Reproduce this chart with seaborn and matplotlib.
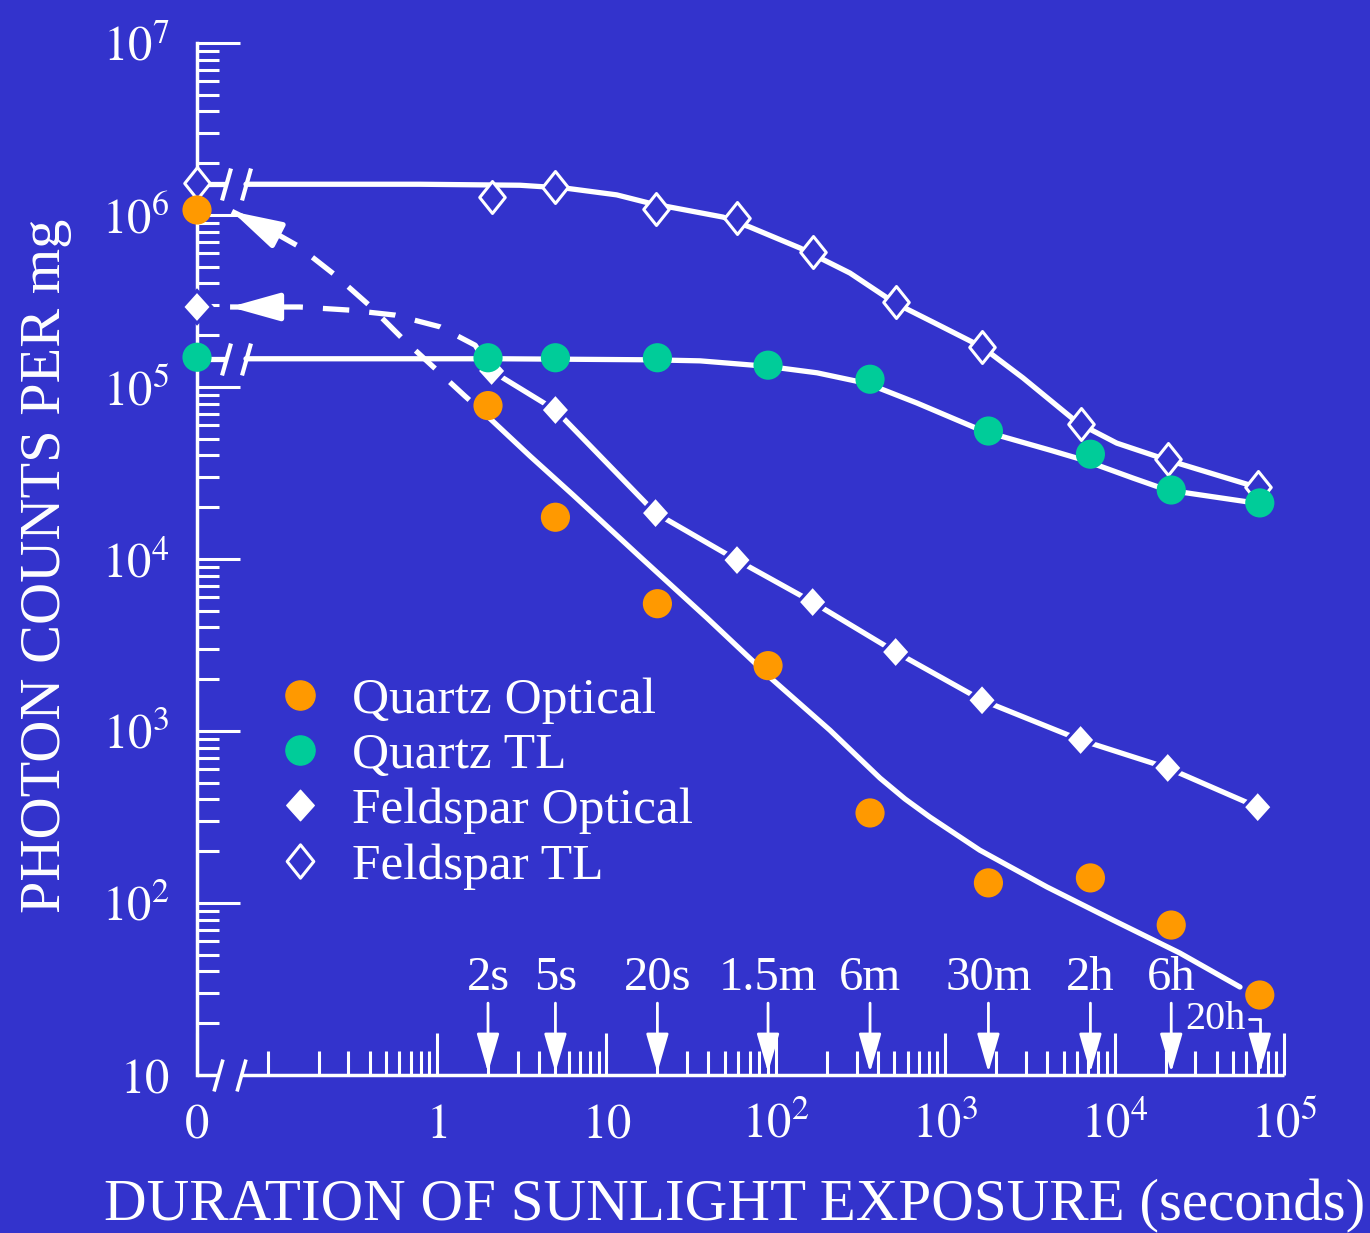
import matplotlib
matplotlib.use("Agg")
import numpy as np
import matplotlib.pyplot as plt
import matplotlib.ticker as mticker
from matplotlib.lines import Line2D
from matplotlib.path import Path
from matplotlib.patches import ArrowStyle
import seaborn as sns

# === Data (seconds, photon counts per mg) ===
quartz_times = [0, 2, 5, 20, 90, 360, 1800, 7200, 21600, 72000]
quartz_optical = [1.07e6, 7.8e4, 1.75e4, 5.5e3, 2.4e3, 334, 131, 140, 74.5, 29.2]
quartz_tl = [1.49e5, 1.48e5, 1.48e5, 1.48e5, 1.34e5, 1.11e5, 5.55e4, 4.07e4, 2.52e4, 2.12e4]

feldspar_times = [0, 2.1, 5, 19.5, 59, 165, 510, 1650, 6300, 20600, 70000]
feldspar_optical = [2.92e5, 1.24e5, 7.35e4, 1.85e4, 9.86e3, 5.62e3, 2.88e3, 1.51e3, 887, 610, 361]
feldspar_tl = [1.53e6, 1.27e6, 1.46e6, 1.08e6, 9.6e5, 6.1e5, 3.12e5, 1.71e5, 6.1e4, 3.81e4, 2.62e4]

# fitted curves drawn through the data (traced)
qo_fit_t = [1.95, 3.54, 6.35, 15.8, 39.3, 96.2, 209, 412, 579, 813, 1600, 3990, 9790, 24300, 55000]
qo_fit_y = [6.88e4, 3.97e4, 2.36e4, 1.03e4, 4.54e3, 1.98e3, 1.01e3, 533, 403, 316, 203, 124, 79.6,
            51.2, 32.5]
qo_dash_t = [0.0616, 0.103, 0.151, 0.250, 0.402, 0.630, 1.01, 1.46, 1.95]
qo_dash_y = [1.05e6, 8.18e5, 6.61e5, 4.48e5, 2.96e5, 1.90e5, 1.24e5, 8.87e4, 6.88e4]
fo_dash_t = [0.060, 0.155, 0.306, 0.565, 1.04, 1.68, 2.1]
fo_dash_y = [2.92e5, 2.92e5, 2.80e5, 2.62e5, 2.24e5, 1.75e5, 1.24e5]
qtl_fit_t = [0.0745, 2.35, 18.1, 35.7, 88.7, 175, 345, 682, 1670, 4150, 6510, 12800, 20400, 63000]
qtl_fit_y = [1.46e5, 1.46e5, 1.44e5, 1.42e5, 1.32e5, 1.21e5, 1.05e5, 8.07e4, 5.55e4, 4.30e4,
             3.77e4, 2.96e4, 2.52e4, 2.14e4]
ftl_fit_t = [0.0745, 0.794, 3.09, 5.85, 11.5, 18.1, 48.8, 70.4, 139, 274, 505, 895, 1650, 2880,
             6080, 10300, 20400, 63000]
ftl_fit_y = [1.51e6, 1.51e6, 1.49e6, 1.43e6, 1.31e6, 1.17e6, 9.73e5, 8.51e5, 6.43e5, 4.60e5,
             3.08e5, 2.32e5, 1.71e5, 1.13e5, 6.18e4, 4.72e4, 3.77e4, 2.69e4]

arrow_times = [2, 5, 20, 90, 360, 1800, 7200, 21600, 72000]
arrow_labels = ["2s", "5s", "20s", "1.5m", "6m", "30m", "2h", "6h", "20h"]

x_tick_vals = [0, 1, 10, 100, 1e3, 1e4, 1e5]
x_tick_labels = ["$0$", "$1$", "$10$", "$10^{2}$", "$10^{3}$", "$10^{4}$", "$10^{5}$"]
y_tick_vals = [10, 1e2, 1e3, 1e4, 1e5, 1e6, 1e7]
y_tick_labels = ["$10$", "$10^{2}$", "$10^{3}$", "$10^{4}$", "$10^{5}$", "$10^{6}$", "$10^{7}$"]

# === Style ===
BG = "#3333cc"
ORANGE = "#ff9900"
GREEN = "#00cc99"
X_ZERO = 10 ** -1.417          # where "0" sits on the broken log axis
AXIS_BREAK = (0.0509, 0.0692)
LINE_BREAK = (0.0568, 0.0745)
LW = 3.8


def zero_pos(ts):
    return [X_ZERO if t == 0 else t for t in ts]


sns.set_theme(style="ticks")
plt.rcParams["font.family"] = ["Liberation Serif", "DejaVu Serif"]
plt.rcParams["mathtext.fontset"] = "stix"

slash = Path([(-0.28, -1), (0.28, 1)], [Path.MOVETO, Path.LINETO])
diamond_open = Path([(0, 1), (0.8, 0), (0, -1), (-0.8, 0), (0, 1)],
                    [Path.MOVETO, Path.LINETO, Path.LINETO, Path.LINETO, Path.CLOSEPOLY])
diamond_fill = Path([(0, 1), (0.9, 0), (0, -1), (-0.9, 0), (0, 1)],
                    [Path.MOVETO, Path.LINETO, Path.LINETO, Path.LINETO, Path.CLOSEPOLY])

fig = plt.figure(figsize=(13.7, 12.33), dpi=100, facecolor=BG)
ax = fig.add_axes([0.1438, 0.1281, 0.7934, 0.8370])
ax.set_facecolor(BG)
ax.set_xscale("log")
ax.set_yscale("log")
ax.set_xlim(X_ZERO, 1e5)
ax.set_ylim(10, 1e7)

# === Curves ===
line_kw = dict(color="white", lw=LW, sort=False, estimator=None, ax=ax, zorder=2)
sns.lineplot(x=qo_fit_t, y=qo_fit_y, **line_kw)
sns.lineplot(x=qo_dash_t, y=qo_dash_y, linestyle=(0, (5, 3.8)), **line_kw)
sns.lineplot(x=fo_dash_t, y=fo_dash_y, linestyle=(0, (5, 3.8)), **line_kw)
sns.lineplot(x=feldspar_times[1:], y=feldspar_optical[1:], **line_kw)
sns.lineplot(x=qtl_fit_t, y=qtl_fit_y, **line_kw)
sns.lineplot(x=ftl_fit_t, y=ftl_fit_y, **line_kw)

# stubs before the break on the TL curves + break marks
for yv in (qtl_fit_y[0], ftl_fit_y[0]):
    ax.plot([X_ZERO, LINE_BREAK[0]], [yv, yv], color="white", lw=LW, solid_capstyle="butt",
            clip_on=False, zorder=2)
    ax.plot(LINE_BREAK, [yv, yv], ls="none", marker=slash, ms=23, mec="white", mew=3,
            clip_on=False, zorder=2)

# arrowheads on the dashed curves (pointing back to the unbleached values)
head = ArrowStyle("-|>", head_length=1.5, head_width=0.42)
ax.annotate("", xy=(qo_dash_t[0], qo_dash_y[0]), xytext=(27, -14), textcoords="offset points",
            arrowprops=dict(arrowstyle=head, color="white", lw=LW, shrinkA=0, shrinkB=0,
                            mutation_scale=20), zorder=3)
ax.annotate("", xy=(fo_dash_t[0], fo_dash_y[0]), xytext=(30, 0), textcoords="offset points",
            arrowprops=dict(arrowstyle=head, color="white", lw=LW, shrinkA=0, shrinkB=0,
                            mutation_scale=20), zorder=3)

# === Markers ===
ft = zero_pos(feldspar_times)
qt = zero_pos(quartz_times)
sns.scatterplot(x=ft, y=feldspar_tl, marker=diamond_open, s=23 ** 2, color=BG, edgecolor="white",
                linewidth=2.2, zorder=4, clip_on=False, ax=ax)
sns.scatterplot(x=ft, y=feldspar_optical, marker=diamond_fill, s=27 ** 2, color=BG, edgecolor="none",
                linewidth=0, zorder=4, clip_on=False, ax=ax)
sns.scatterplot(x=ft, y=feldspar_optical, marker=diamond_fill, s=20 ** 2, color="white",
                edgecolor="none", linewidth=0, zorder=4.5, clip_on=False, ax=ax)
sns.scatterplot(x=qt, y=quartz_tl, marker="o", s=21 ** 2, color=GREEN, edgecolor="none",
                linewidth=0, zorder=5, clip_on=False, ax=ax)
sns.scatterplot(x=qt, y=quartz_optical, marker="o", s=21 ** 2, color=ORANGE, edgecolor="none",
                linewidth=0, zorder=5, clip_on=False, ax=ax)

# === Axes ===
for side in ["top", "right", "bottom"]:
    ax.spines[side].set_visible(False)
ax.spines["left"].set_color("white")
ax.spines["left"].set_linewidth(2.5)

xa = ax.get_xaxis_transform()
ax.plot([X_ZERO, AXIS_BREAK[0]], [0, 0], transform=xa, color="white", lw=2.5,
        solid_capstyle="butt", clip_on=False)
ax.plot([AXIS_BREAK[1], 1e5], [0, 0], transform=xa, color="white", lw=2.5,
        solid_capstyle="butt", clip_on=False)
ax.plot(AXIS_BREAK, [0, 0], transform=xa, ls="none", marker=slash, ms=23, mec="white", mew=2.6,
        clip_on=False)

ax.xaxis.set_major_locator(mticker.FixedLocator(zero_pos(x_tick_vals)))
ax.xaxis.set_major_formatter(mticker.FixedFormatter(x_tick_labels))
x_minor = [m * 10.0 ** e for e in range(-1, 5) for m in range(1 if e == -1 else 2, 10)]
ax.xaxis.set_minor_locator(mticker.FixedLocator(x_minor))
ax.xaxis.set_minor_formatter(mticker.NullFormatter())
ax.yaxis.set_major_locator(mticker.FixedLocator(y_tick_vals))
ax.yaxis.set_major_formatter(mticker.FixedFormatter(y_tick_labels))
ax.yaxis.set_minor_locator(mticker.LogLocator(base=10, subs=np.arange(2, 10), numticks=50))
ax.yaxis.set_minor_formatter(mticker.NullFormatter())

ax.tick_params(which="both", direction="in", colors="white", width=2.2, top=False, right=False)
ax.tick_params(axis="y", which="major", length=31, pad=20, labelsize=35)
ax.tick_params(axis="y", which="minor", length=16)
ax.tick_params(axis="x", which="major", length=30, pad=45, labelsize=35)
ax.tick_params(axis="x", which="minor", length=17)
for lbl in ax.get_xticklabels():
    lbl.set_va("baseline")
ax.yaxis.get_major_ticks()[0].tick1line.set_visible(False)

ax.set_xlabel("")
ax.set_ylabel("")
fig.text(0.0335, 0.541, "PHOTON COUNTS PER mg", rotation=90, ha="center", va="center",
         fontsize=42, color="white")
fig.text(0.536, 0.0220, "DURATION OF SUNLIGHT EXPOSURE (seconds)", ha="center", va="center",
         fontsize=42.5, color="white")

# === Exposure arrows ===
arrow_head = ArrowStyle("-|>", head_length=1.2, head_width=0.35)
for t, lab in zip(arrow_times[:-1], arrow_labels[:-1]):
    ax.annotate(lab, xy=(t, 10), xytext=(0, 70), textcoords="offset points", ha="center",
                va="center", fontsize=35, color="white",
                arrowprops=dict(arrowstyle=arrow_head, color="white", lw=2, shrinkA=0,
                                shrinkB=2, mutation_scale=20))
ax.annotate(arrow_labels[-1], xy=(arrow_times[-1], 10), xytext=(-32, 40), textcoords="offset points",
            ha="center", va="center", fontsize=29, color="white",
            arrowprops=dict(arrowstyle=arrow_head, color="white", lw=2, shrinkA=0, shrinkB=2,
                            mutation_scale=20, connectionstyle="angle,angleA=0,angleB=90,rad=0"))

# === Legend ===
handles = [
    Line2D([], [], ls="none", marker="o", ms=21, mfc=ORANGE, mec=ORANGE),
    Line2D([], [], ls="none", marker="o", ms=21, mfc=GREEN, mec=GREEN),
    Line2D([], [], ls="none", marker=diamond_fill, ms=22, mfc="white", mec="white"),
    Line2D([], [], ls="none", marker=diamond_open, ms=24, mfc=BG, mec="white", mew=2.2),
]
labels = ["Quartz Optical", "Quartz TL", "Feldspar Optical", "Feldspar TL"]
ax.legend(handles, labels, loc="upper left", bbox_to_anchor=(274.3 / 1370, 1 - 677 / 1233),
          bbox_transform=fig.transFigure, frameon=False, fontsize=37, handlelength=1.0,
          handletextpad=0.51, labelspacing=0.16, borderpad=0, borderaxespad=0,
          labelcolor="white")

fig.savefig("out.png", dpi=100, facecolor=BG)
